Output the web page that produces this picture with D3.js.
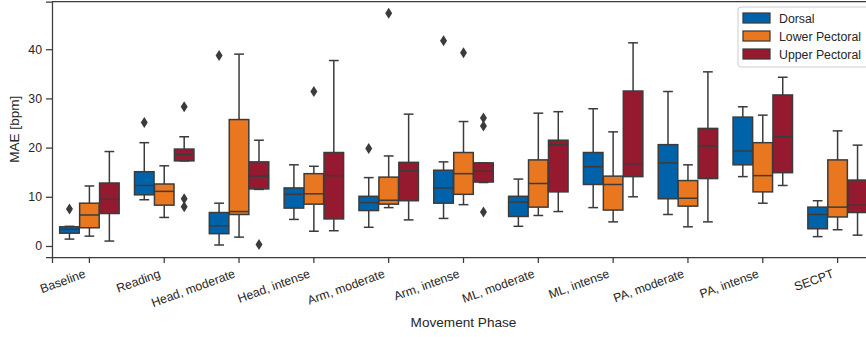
<!DOCTYPE html>
<html>
<head>
<meta charset="utf-8">
<script src="https://cdn.jsdelivr.net/npm/d3@7"></script>
<style>
  body { margin: 0; background: #fff; }
  svg { display: block; font-family: "Liberation Sans", Arial, sans-serif; }
</style>
</head>
<body>
<div id="chart"></div>
<script>
// categories and series
const phases = ['Baseline', 'Reading', 'Head, moderate', 'Head, intense', 'Arm, moderate',
  'Arm, intense', 'ML, moderate', 'ML, intense', 'PA, moderate', 'PA, intense', 'SECPT'];
const sensors = ['Dorsal', 'Lower Pectoral', 'Upper Pectoral'];
const sensorColors = ['#0063a9', '#e8771f', '#951a2f'];
const yTicks = [0, 10, 20, 30, 40];

// [lower whisker, q1, median, q3, upper whisker] per phase
const dorsalStats = [
  [1.4, 2.6, 3.4, 3.9, 4.0], [9.4, 10.4, 12.3, 15.1, 21.0], [0.2, 2.5, 4.1, 6.8, 8.7],
  [5.4, 7.7, 10.5, 11.8, 16.5], [3.8, 7.2, 8.8, 10.1, 13.9], [5.6, 8.7, 11.8, 15.4, 17.1],
  [4.0, 6.0, 8.9, 10.1, 13.6], [7.8, 12.5, 16.1, 19.0, 27.9], [6.4, 9.6, 16.9, 20.6, 31.4],
  [14.1, 16.5, 19.3, 26.2, 28.3], [1.9, 3.5, 6.4, 7.9, 9.2]
];
const lowerPecStats = [
  [2.0, 3.7, 6.3, 8.7, 12.2], [5.8, 8.3, 11.1, 12.6, 16.3], [1.8, 6.4, 7.0, 25.7, 39.0],
  [3.0, 8.5, 10.6, 14.7, 16.2], [7.8, 8.5, 9.3, 14.0, 18.3], [8.4, 10.5, 14.7, 19.0, 25.3],
  [6.2, 7.9, 12.7, 17.5, 27.0], [4.9, 7.3, 12.5, 14.2, 23.2], [3.9, 8.1, 9.7, 13.3, 16.5],
  [8.7, 11.0, 14.3, 21.0, 26.6], [3.3, 5.9, 7.9, 17.5, 23.4]
];
const upperPecStats = [
  [1.0, 6.6, 9.5, 12.8, 19.2], [17.3, 17.3, 18.6, 19.7, 22.2], [11.5, 11.6, 14.2, 17.1, 21.5],
  [3.1, 5.5, 14.3, 19.0, 37.7], [5.3, 9.2, 15.3, 17.0, 26.8], [12.9, 13.0, 15.2, 16.9, 16.9],
  [7.0, 11.0, 20.6, 21.5, 27.3], [10.0, 14.1, 16.7, 31.5, 41.3], [4.9, 13.7, 20.3, 23.9, 35.4],
  [12.3, 14.9, 22.2, 30.7, 34.3], [2.2, 6.8, 8.3, 13.4, 20.5]
];

// outliers as [phase index, value]
const dorsalOutliers = [[0, 7.5], [1, 25.1], [2, 38.7], [4, 19.8], [5, 41.7]];
const lowerPecOutliers = [[3, 31.4], [4, 47.3], [5, 39.3]];
const upperPecOutliers = [[1, 28.3], [1, 9.6], [1, 8.0], [2, 0.3], [5, 26.0], [5, 24.4], [5, 6.9]];

const allStats = [dorsalStats, lowerPecStats, upperPecStats];
const allOutliers = [dorsalOutliers, lowerPecOutliers, upperPecOutliers];

const W = 866, H = 337;
const plotL = 52, plotR = 875, plotT = 1.5, plotB = 257;
const ink = '#3b3b3b';

const svg = d3.select('#chart').append('svg')
  .attr('width', W).attr('height', H);

const x = d3.scaleBand().domain(phases).range([plotL, plotR]).padding(0);
const hue = d3.scaleBand().domain(sensors).range([0, x.bandwidth() * 0.8]).padding(0);
const y = d3.scaleLinear().domain([-2.24, 49.7]).range([plotB, plotT]);

const boxW = hue.bandwidth() * 0.98;
const capW = boxW / 2;

// boxes
sensors.forEach((s, si) => {
  const g = svg.append('g');
  const off = x.bandwidth() * 0.1 + hue(s) + hue.bandwidth() / 2;
  allStats[si].forEach((st, pi) => {
    const cx = x(phases[pi]) + off;
    const [lo, q1, med, q3, hi] = st;
    // whiskers
    g.append('line').attr('x1', cx).attr('x2', cx).attr('y1', y(q3)).attr('y2', y(hi))
      .attr('stroke', ink).attr('stroke-width', 1.5);
    g.append('line').attr('x1', cx).attr('x2', cx).attr('y1', y(q1)).attr('y2', y(lo))
      .attr('stroke', ink).attr('stroke-width', 1.5);
    g.append('line').attr('x1', cx - capW / 2).attr('x2', cx + capW / 2).attr('y1', y(hi)).attr('y2', y(hi))
      .attr('stroke', ink).attr('stroke-width', 1.5);
    g.append('line').attr('x1', cx - capW / 2).attr('x2', cx + capW / 2).attr('y1', y(lo)).attr('y2', y(lo))
      .attr('stroke', ink).attr('stroke-width', 1.5);
    // box
    g.append('rect').attr('x', cx - boxW / 2).attr('width', boxW)
      .attr('y', y(q3)).attr('height', Math.max(0.5, y(q1) - y(q3)))
      .attr('fill', sensorColors[si]).attr('stroke', ink).attr('stroke-width', 1.5);
    // median
    g.append('line').attr('x1', cx - boxW / 2).attr('x2', cx + boxW / 2).attr('y1', y(med)).attr('y2', y(med))
      .attr('stroke', ink).attr('stroke-width', 1.5);
  });
  // outliers (thin diamonds)
  g.selectAll('path.out').data(allOutliers[si]).enter().append('path')
    .attr('class', 'out')
    .attr('d', d => {
      const cx = x(phases[d[0]]) + off, cy = y(d[1]);
      return `M${cx},${cy - 5.5}L${cx + 3.5},${cy}L${cx},${cy + 5.5}L${cx - 3.5},${cy}Z`;
    })
    .attr('fill', ink);
});

// axes frame
svg.append('line').attr('x1', plotL).attr('x2', plotR).attr('y1', plotT).attr('y2', plotT)
  .attr('stroke', ink).attr('stroke-width', 1.25);
svg.append('line').attr('x1', plotR).attr('x2', plotR).attr('y1', plotT).attr('y2', plotB)
  .attr('stroke', ink).attr('stroke-width', 1.25);

const yAxis = svg.append('g').attr('transform', `translate(${plotL},0)`)
  .call(d3.axisLeft(y).tickValues(yTicks).tickSize(6).tickPadding(4));
yAxis.selectAll('text').attr('font-size', 12.3).attr('fill', '#262626')
  .attr('font-family', '"Liberation Sans", Arial, sans-serif');

const xAxis = svg.append('g').attr('transform', `translate(0,${plotB})`)
  .call(d3.axisBottom(x).tickSize(6).tickPadding(4));
xAxis.selectAll('text')
  .attr('font-size', 12.3).attr('fill', '#262626')
  .attr('font-family', '"Liberation Sans", Arial, sans-serif')
  .attr('text-anchor', 'end')
  .attr('dy', null).attr('y', null)
  .attr('transform', 'translate(-3,20) rotate(-20)');

[yAxis, xAxis].forEach(a => {
  a.select('.domain').attr('stroke', ink).attr('stroke-width', 1.25);
  a.selectAll('.tick line').attr('stroke', ink).attr('stroke-width', 1.25);
});

// axis labels
svg.append('text').attr('x', (plotL + plotR) / 2).attr('y', 327)
  .attr('text-anchor', 'middle').attr('font-size', 13.6).attr('fill', '#262626')
  .text('Movement Phase');
svg.append('text').attr('transform', `translate(19,${(plotT + plotB) / 2}) rotate(-90)`)
  .attr('text-anchor', 'middle').attr('font-size', 13.6).attr('fill', '#262626')
  .text('MAE [bpm]');

// legend
const lg = svg.append('g').attr('transform', 'translate(738,7)');
lg.append('rect').attr('width', 131).attr('height', 60).attr('rx', 3)
  .attr('fill', '#fff').attr('fill-opacity', 0.8).attr('stroke', '#cccccc').attr('stroke-width', 1);
sensors.forEach((s, i) => {
  lg.append('rect').attr('x', 5).attr('y', 6 + i * 18).attr('width', 27).attr('height', 10)
    .attr('fill', sensorColors[i]).attr('stroke', ink).attr('stroke-width', 1.25);
  lg.append('text').attr('x', 41).attr('y', 15.5 + i * 18)
    .attr('font-size', 12.3).attr('fill', '#262626').text(s);
});
</script>
</body>
</html>
